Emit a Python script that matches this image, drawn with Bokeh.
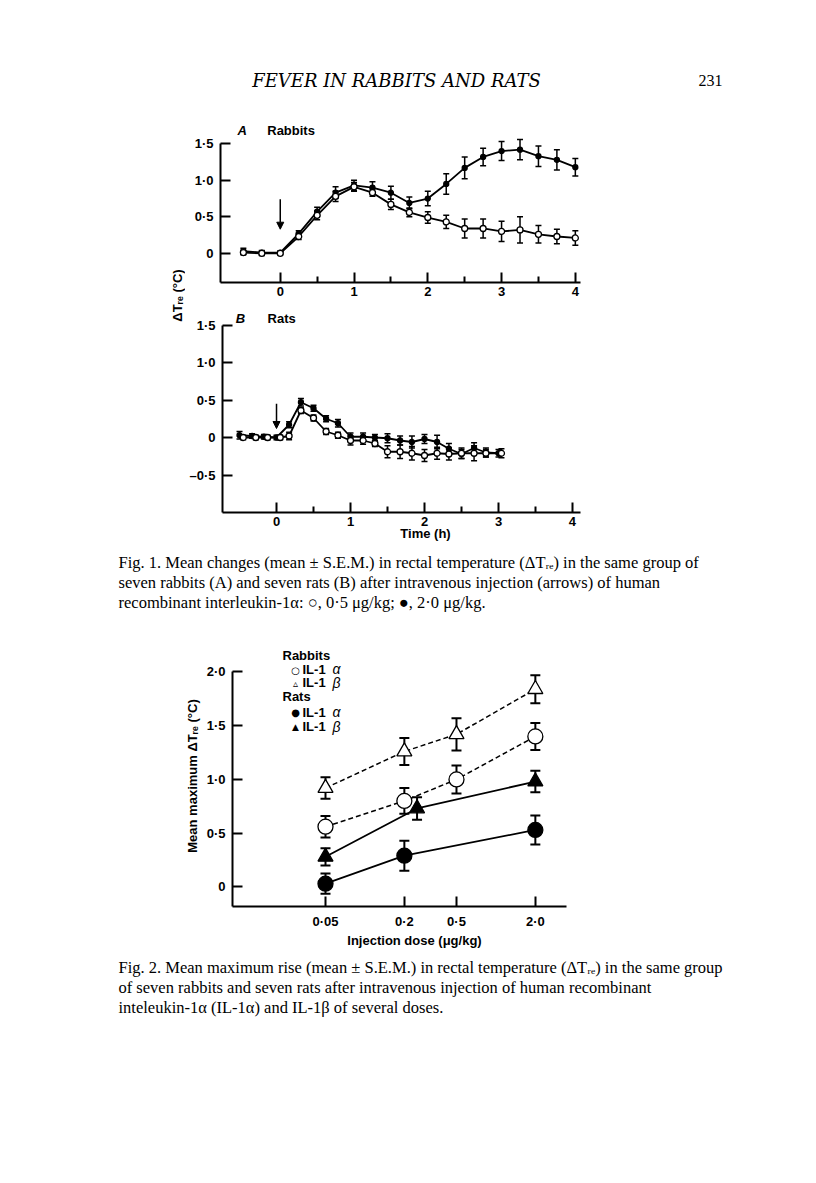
from bokeh.plotting import figure
from bokeh.layouts import column, row
from bokeh.models import (Range1d, FixedTicker, Label, Whisker, TeeHead, ColumnDataSource,
                          Arrow, NormalHead, CustomJSTickFormatter)
from bokeh.embed import file_html
from bokeh.resources import INLINE
import math

# ---------------- DATA ----------------
# Fig 1A rabbits, time (h)
rab_t = [-0.5, -0.25, 0.0, 0.25, 0.5, 0.75, 1.0, 1.25, 1.5, 1.75, 2.0, 2.25, 2.5, 2.75, 3.0, 3.25, 3.5, 3.75, 4.0]
rab_low = [0.01, 0.0, 0.0, 0.23, 0.52, 0.78, 0.91, 0.83, 0.67, 0.56, 0.49, 0.43, 0.34, 0.34, 0.30, 0.32, 0.26, 0.23, 0.21]
rab_low_err = [0.03, 0.03, 0.02, 0.04, 0.06, 0.07, 0.06, 0.05, 0.07, 0.06, 0.08, 0.09, 0.13, 0.13, 0.14, 0.18, 0.12, 0.10, 0.10]
rab_high = [0.03, 0.01, 0.01, 0.27, 0.57, 0.83, 0.93, 0.90, 0.83, 0.69, 0.75, 0.95, 1.17, 1.32, 1.40, 1.42, 1.33, 1.28, 1.18]
rab_high_err = [0.04, 0.03, 0.02, 0.04, 0.06, 0.08, 0.07, 0.08, 0.09, 0.08, 0.10, 0.14, 0.15, 0.12, 0.13, 0.14, 0.14, 0.14, 0.12]

# Fig 1B rats, time (h)
rat_t_high = [-0.5, -0.33, -0.17, 0.0, 0.17, 0.33, 0.5, 0.67, 0.83, 1.0, 1.17, 1.33, 1.5, 1.67, 1.83, 2.0, 2.17, 2.33, 2.5, 2.67, 2.83, 3.0]
rat_t_low = [-0.45, -0.28, -0.12, 0.05, 0.17, 0.33, 0.5, 0.67, 0.83, 1.0, 1.17, 1.33, 1.5, 1.67, 1.83, 2.0, 2.17, 2.33, 2.5, 2.67, 2.83, 3.04]
rat_high = [0.03, 0.02, 0.01, 0.0, 0.17, 0.47, 0.39, 0.25, 0.19, 0.01, 0.01, 0.0, -0.01, -0.04, -0.06, -0.02, -0.06, -0.15, -0.22, -0.14, -0.20, -0.21]
rat_high_err = [0.05, 0.03, 0.03, 0.03, 0.04, 0.05, 0.04, 0.04, 0.05, 0.05, 0.05, 0.04, 0.06, 0.06, 0.08, 0.06, 0.09, 0.07, 0.06, 0.07, 0.06, 0.05]
rat_low = [0.0, 0.0, 0.0, 0.0, 0.02, 0.36, 0.26, 0.08, 0.03, -0.04, -0.04, -0.08, -0.19, -0.19, -0.21, -0.24, -0.21, -0.22, -0.21, -0.21, -0.21, -0.21]
rat_low_err = [0.03, 0.03, 0.03, 0.03, 0.05, 0.04, 0.04, 0.04, 0.04, 0.06, 0.05, 0.04, 0.08, 0.09, 0.09, 0.08, 0.08, 0.08, 0.07, 0.10, 0.05, 0.06]

arrow_t = 0.0
arrowA = (0.74, 0.33)
arrowB = (0.45, 0.12)

# Fig 2, dose (ug/kg)
dose = [0.05, 0.2, 0.5, 2.0]
rabbit_a = [0.56, 0.80, 1.00, 1.40]
rabbit_a_err = [0.10, 0.12, 0.13, 0.125]
rabbit_b = [0.92, 1.26, 1.42, 1.84]
rabbit_b_err = [0.10, 0.125, 0.15, 0.13]
rat_a_dose = [0.05, 0.2, 2.0]
rat_a = [0.03, 0.29, 0.53]
rat_a_err = [0.095, 0.14, 0.135]
rat_b_dose = [0.05, 0.25, 2.0]
rat_b = [0.28, 0.73, 0.98]
rat_b_err = [0.08, 0.105, 0.10]

fig1_yticks_A = [0, 0.5, 1.0, 1.5]
fig1_yticks_B = [-0.5, 0, 0.5, 1.0, 1.5]
fig1_xticks = [0, 1, 2, 3, 4]
fig1_xminor = [0.5, 1.5, 2.5, 3.5]
fig2_yticks = [0, 0.5, 1.0, 1.5, 2.0]

SANS = "Liberation Sans"
SERIF = "Liberation Serif"

Y_FMT = CustomJSTickFormatter(code="""
if (Math.abs(tick) < 1e-9) return "0";
const s = Math.abs(tick).toFixed(1).replace(".", "\\u00b7");
return tick < 0 ? "\\u2013" + s : s;
""")
X1_FMT = CustomJSTickFormatter(code="return tick.toFixed(0);")
X2_FMT = CustomJSTickFormatter(code="""
const s = tick < 0.1 ? tick.toFixed(2) : tick.toFixed(1);
return s.replace(".", "\\u00b7");
""")


def canvas(w, h, left, top):
    p = figure(width=w, height=h, x_range=Range1d(left, left + w), y_range=Range1d(top + h, top),
               output_backend="svg", toolbar_location=None, min_border=0,
               x_axis_type=None, y_axis_type=None)
    p.outline_line_color = None
    p.xgrid.visible = False
    p.ygrid.visible = False
    p.frame_align = False
    return p


def txt(p, x, y, text, size="13px", font=SANS, style="bold", align="left", angle=0):
    p.add_layout(Label(x=x, y=y, text=text, text_font=font, text_font_size=size,
                       text_font_style=style, text_align=align, text_baseline="middle",
                       text_color="black", angle=angle, angle_units="deg"))


def data_fig(w, h, xr, yr, bl, br, bt, bb, x_type="linear"):
    p = figure(width=w, height=h, x_range=xr, y_range=yr, x_axis_type=x_type,
               output_backend="svg", toolbar_location=None,
               min_border_left=bl, min_border_right=br, min_border_top=bt, min_border_bottom=bb)
    p.frame_align = False
    p.outline_line_color = None
    p.xgrid.visible = False
    p.ygrid.visible = False
    for ax in p.axis:
        ax.axis_line_width = 2
        ax.axis_line_color = "black"
        ax.major_tick_line_width = 2
        ax.minor_tick_line_width = 2
        ax.major_tick_line_color = "black"
        ax.minor_tick_line_color = "black"
        ax.major_tick_in = 10
        ax.major_tick_out = 0
        ax.minor_tick_in = 6
        ax.minor_tick_out = 0
        ax.major_label_text_font = SANS
        ax.major_label_text_font_style = "bold"
        ax.major_label_text_font_size = "13px"
        ax.major_label_text_color = "black"
        ax.axis_label_text_font = SANS
        ax.axis_label_text_font_style = "bold"
        ax.axis_label_text_font_size = "13px"
        ax.axis_label_text_color = "black"
    p.yaxis.major_label_standoff = 7
    p.xaxis.major_label_standoff = 4
    return p


def add_series(p, x, y, e, filled, size, cap, lw, dash="solid", marker="circle", elw=1.5):
    src = ColumnDataSource(dict(x=x, y=y, lo=[a - b for a, b in zip(y, e)], hi=[a + b for a, b in zip(y, e)]))
    p.add_layout(Whisker(source=src, base="x", upper="hi", lower="lo", line_width=elw,
                         upper_head=TeeHead(size=cap, line_width=elw),
                         lower_head=TeeHead(size=cap, line_width=elw), level="underlay"))
    p.line("x", "y", source=src, line_width=lw, line_color="black", line_dash=dash)
    p.scatter("x", "y", source=src, marker=marker, size=size,
              fill_color="black" if filled else "white", line_color="black", line_width=1.3)


W = 808

# ---------------- HEADER ----------------
header = canvas(W, 108, 0, 0)
txt(header, 396, 80, "FEVER IN RABBITS AND RATS", size="18px", font="DejaVu Serif", style="italic", align="center")
txt(header, 722, 80, "231", size="16px", font=SERIF, style="normal", align="right")

# ---------------- FIG 1A ----------------
# frame: page x 220..580, page y 120..282
figA = data_fig(623, 196, Range1d(-0.81, 4.07), Range1d(-0.4, 1.819), 35, 228, 12, 22)
figA.yaxis.ticker = FixedTicker(ticks=fig1_yticks_A, minor_ticks=[])
figA.yaxis.bounds = (-0.4, 1.5)
figA.yaxis.formatter = Y_FMT
figA.xaxis.ticker = FixedTicker(ticks=fig1_xticks, minor_ticks=fig1_xminor)
figA.xaxis.formatter = X1_FMT
add_series(figA, rab_t, rab_high, rab_high_err, True, 5, 6, 1.8)
add_series(figA, rab_t, rab_low, rab_low_err, False, 6, 6, 1.8)
figA.add_layout(Arrow(x_start=arrow_t, y_start=arrowA[0], x_end=arrow_t, y_end=arrowA[1], line_width=1.5,
                      end=NormalHead(size=7, fill_color="black", line_color="black")))
ax_ = lambda px: (px - 280) / 73.77
ay_ = lambda py: 1.5 + (143.5 - py) / 73.0
txt(figA, ax_(242), ay_(130), "A", size="13px", style="bold italic", align="center")
txt(figA, ax_(267), ay_(130), "Rabbits", size="13px")

# ---------------- FIG 1B ----------------
# frame: page x 222..628 (axis line stops at 580), page y 311..512
figB = data_fig(623, 244, Range1d(-0.73, 4.757), Range1d(-1.0, 1.68), 37, 180, 7, 36)
figB.yaxis.ticker = FixedTicker(ticks=fig1_yticks_B, minor_ticks=[])
figB.yaxis.bounds = (-1.0, 1.5)
figB.yaxis.formatter = Y_FMT
figB.xaxis.ticker = FixedTicker(ticks=fig1_xticks, minor_ticks=fig1_xminor)
figB.xaxis.formatter = X1_FMT
figB.xaxis.bounds = (-0.73, 4.108)
figB.xaxis.axis_label = "Time (h)"
figB.xaxis.axis_label_standoff = -3
add_series(figB, rat_t_high, rat_high, rat_high_err, True, 5, 6, 1.8)
add_series(figB, rat_t_low, rat_low, rat_low_err, False, 6, 6, 1.8)
figB.add_layout(Arrow(x_start=arrow_t, y_start=arrowB[0], x_end=arrow_t, y_end=arrowB[1], line_width=1.5,
                      end=NormalHead(size=7, fill_color="black", line_color="black")))
bx_ = lambda px: (px - 276) / 74.0
by_ = lambda py: 1.5 + (323 - py) / 75.0
txt(figB, bx_(240), by_(316), "B", size="13px", style="bold italic", align="center")
txt(figB, bx_(267), by_(316), "Rats", size="13px")

# shared y label
ylab = canvas(185, 440, 0, 108)
txt(ylab, 177, 295, "\u0394T\u1d63\u2091 (\u00b0C)", size="13px", align="center", angle=90)

fig1_block = row(ylab, column(figA, figB))

# ---------------- CAPTION 1 ----------------
cap1 = canvas(W, 92, 0, 548)
cap1_lines = [
    "Fig. 1. Mean changes (mean \u00b1 S.E.M.) in rectal temperature (\u0394T\u1d63\u2091) in the same group of",
    "seven rabbits (A) and seven rats (B) after intravenous injection (arrows) of human",
    "recombinant interleukin-1\u03b1: \u25cb, 0\u00b75 \u03bcg/kg; \u25cf, 2\u00b70 \u03bcg/kg.",
]
for i, line in enumerate(cap1_lines):
    txt(cap1, 118, 562 + 20 * i, line, size="16.5px", font=SERIF, style="normal")

# ---------------- FIG 2 ----------------
# frame: page x 232..596 (axis line stops at 568), page y 645..911
fig2 = data_fig(W, 310, Range1d(0.00975, 5.86), Range1d(-0.1826, 2.2466), 232, 212, 5, 39, x_type="log")
fig2.yaxis.ticker = FixedTicker(ticks=fig2_yticks, minor_ticks=[])
fig2.yaxis.bounds = (-0.1826, 2.0)
fig2.yaxis.formatter = Y_FMT
fig2.xaxis.ticker = FixedTicker(ticks=dose, minor_ticks=[])
fig2.xaxis.formatter = X2_FMT
fig2.xaxis.bounds = (0.00975, 3.45)
fig2.xaxis.major_label_standoff = 7
fig2.xaxis.axis_label = "Injection dose (\u03bcg/kg)"
fig2.xaxis.axis_label_standoff = 1
fig2.yaxis.axis_label = "Mean maximum \u0394T\u1d63\u2091 (\u00b0C)"
fig2.yaxis.axis_label_standoff = 4
add_series(fig2, rat_a_dose, rat_a, rat_a_err, True, 15, 10, 1.8, elw=2)
add_series(fig2, rat_b_dose, rat_b, rat_b_err, True, 15, 10, 1.8, marker="triangle", elw=2)
add_series(fig2, dose, rabbit_a, rabbit_a_err, False, 15, 10, 1.5, dash="5 3", elw=2)
add_series(fig2, dose, rabbit_b, rabbit_b_err, False, 15, 10, 1.5, dash="5 3", marker="triangle", elw=2)

cx_ = lambda px: 10 ** (math.log10(0.05) + (px - 325) / 131.0)
cy_ = lambda py: 2.0 + (672 - py) / 109.5
txt(fig2, cx_(282), cy_(655), "Rabbits")
txt(fig2, cx_(295), cy_(670), "\u25cb", size="10px", font="DejaVu Sans", style="normal", align="center")
txt(fig2, cx_(302), cy_(669), "IL-1")
txt(fig2, cx_(332), cy_(669), "\u03b1", size="14px", style="italic")
txt(fig2, cx_(295), cy_(684), "\u25b5", size="10px", font="DejaVu Sans", style="normal", align="center")
txt(fig2, cx_(302), cy_(683), "IL-1")
txt(fig2, cx_(332), cy_(683), "\u03b2", size="14px", style="italic")
txt(fig2, cx_(282), cy_(697), "Rats")
txt(fig2, cx_(295), cy_(713), "\u25cf", size="10px", font="DejaVu Sans", style="normal", align="center")
txt(fig2, cx_(302), cy_(713), "IL-1")
txt(fig2, cx_(332), cy_(713), "\u03b1", size="14px", style="italic")
txt(fig2, cx_(295), cy_(728), "\u25b2", size="9px", font="DejaVu Sans", style="normal", align="center")
txt(fig2, cx_(302), cy_(728), "IL-1")
txt(fig2, cx_(332), cy_(728), "\u03b2", size="14px", style="italic")

# ---------------- CAPTION 2 ----------------
cap2 = canvas(W, 80, 0, 950)
cap2_lines = [
    "Fig. 2. Mean maximum rise (mean \u00b1 S.E.M.) in rectal temperature (\u0394T\u1d63\u2091) in the same group",
    "of seven rabbits and seven rats after intravenous injection of human recombinant",
    "inteleukin-1\u03b1 (IL-1\u03b1) and IL-1\u03b2 of several doses.",
]
for i, line in enumerate(cap2_lines):
    txt(cap2, 118, 967 + 20 * i, line, size="16.5px", font=SERIF, style="normal")

page = column(header, fig1_block, cap1, fig2, cap2)
open("out.html", "w").write(file_html(page, INLINE))
